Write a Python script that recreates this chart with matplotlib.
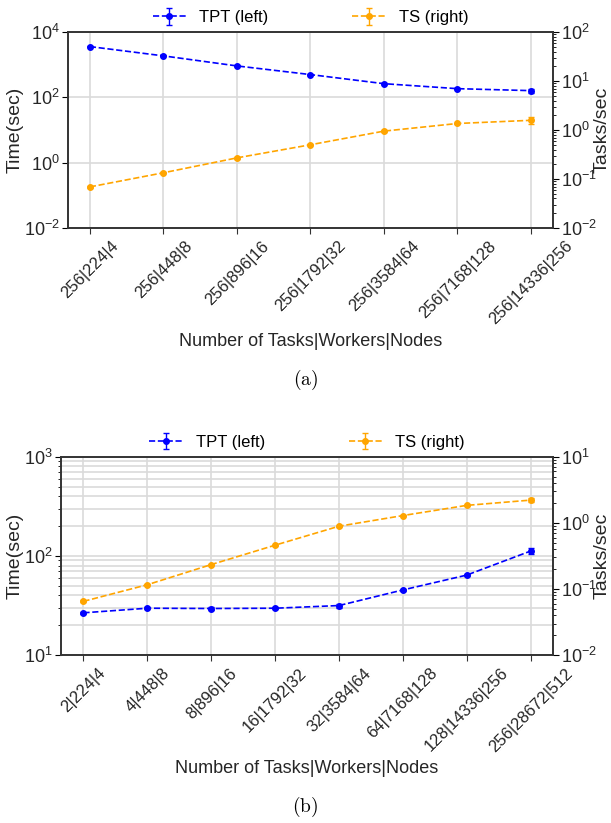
import matplotlib
matplotlib.use("Agg")
import matplotlib.pyplot as plt
from matplotlib.ticker import LogLocator, NullFormatter

plt.rcParams['font.family'] = ['Liberation Sans', 'DejaVu Sans']
plt.rcParams['mathtext.fontset'] = 'custom'
plt.rcParams['mathtext.rm'] = 'Liberation Sans'
plt.rcParams['mathtext.it'] = 'Liberation Sans:italic'

# (a) fixed number of tasks
labels_a = ["256|224|4", "256|448|8", "256|896|16", "256|1792|32",
            "256|3584|64", "256|7168|128", "256|14336|256"]
tpt_a = [3600, 1870, 920, 500, 263, 185, 161]
tpt_err_a = [150, 60, 30, 15, 10, 8, 20]
ts_a = [0.069, 0.134, 0.27, 0.50, 0.95, 1.36, 1.58]
ts_err_a = [0.002, 0.004, 0.008, 0.012, 0.03, 0.05, 0.25]

# (b) growing number of tasks
labels_b = ["2|224|4", "4|448|8", "8|896|16", "16|1792|32", "32|3584|64",
            "64|7168|128", "128|14336|256", "256|28672|512"]
tpt_b = [26.7, 29.7, 29.5, 29.7, 31.6, 45.4, 64.1, 112]
tpt_err_b = [0.8, 0.8, 1.2, 0.8, 1.5, 1.2, 1.5, 8]
ts_b = [0.065, 0.116, 0.234, 0.46, 0.89, 1.29, 1.84, 2.21]
ts_err_b = [0.002, 0.003, 0.005, 0.01, 0.02, 0.03, 0.05, 0.15]

fig = plt.figure(figsize=(6.11, 8.23), dpi=100)
ax1 = fig.add_axes([0.111, 0.723, 0.794, 0.238])
ax2 = fig.add_axes([0.100, 0.204, 0.805, 0.241])

grid_c = '#dadada'
txt_c = '#262626'


def panel(ax, labels, tpt, tpt_err, ts, ts_err, ylim_l, ylim_r, minor_left):
    x = list(range(len(labels)))
    axr = ax.twinx()
    h1 = ax.errorbar(x, tpt, yerr=tpt_err, color='blue', ls='--', lw=1.2,
                     marker='o', ms=4, capsize=2, elinewidth=1)
    h2 = axr.errorbar(x, ts, yerr=ts_err, color='orange', ls='--', lw=1.2,
                      marker='o', ms=4, capsize=2, elinewidth=1)
    ax.set_yscale('log')
    axr.set_yscale('log')
    ax.set_ylim(*ylim_l)
    axr.set_ylim(*ylim_r)
    ax.set_xticks(x)
    ax.set_xticklabels(labels, rotation=45, ha='center', fontsize=12,
                       color=txt_c)
    ax.tick_params(axis='x', length=4, color='#333333')
    ax.tick_params(axis='y', which='major', labelsize=13, length=4,
                   labelcolor=txt_c, pad=2)
    axr.tick_params(axis='y', which='major', labelsize=13, length=4,
                    labelcolor=txt_c, pad=2)
    axr.tick_params(axis='y', which='minor', length=2)
    axr.yaxis.set_minor_locator(LogLocator(base=10, subs=range(2, 10)))
    axr.yaxis.set_minor_formatter(NullFormatter())
    if minor_left:
        ax.yaxis.set_minor_locator(LogLocator(base=10, subs=range(2, 10)))
        ax.tick_params(axis='y', which='minor', length=2)
        ax.grid(True, which='both', axis='y', color=grid_c, lw=1.2)
    else:
        ax.yaxis.set_minor_locator(plt.NullLocator())
        ax.grid(True, which='major', axis='y', color=grid_c, lw=1.2)
    ax.yaxis.set_minor_formatter(NullFormatter())
    ax.grid(True, which='major', axis='x', color=grid_c, lw=1.2)
    ax.set_axisbelow(True)
    for a in (ax, axr):
        for s in a.spines.values():
            s.set_color('#333333')
            s.set_linewidth(1.2)
    ax.set_ylabel('Time(sec)', fontsize=14, color=txt_c)
    axr.set_ylabel('Tasks/sec', fontsize=14, color=txt_c)
    ax.set_xlabel('Number of Tasks|Workers|Nodes', fontsize=13, color=txt_c)
    ax.legend([h1, h2], ['TPT (left)', 'TS (right)'], ncol=2,
              loc='lower center', bbox_to_anchor=(0.5, 0.985), frameon=False,
              fontsize=12, columnspacing=5, handlelength=2,
              borderaxespad=0.2)
    return axr


r1 = panel(ax1, labels_a, tpt_a, tpt_err_a, ts_a, ts_err_a,
           (1e-2, 1e4), (1e-2, 1e2), False)
ax1.set_yticks([1e-2, 1e0, 1e2, 1e4])
r1.set_yticks([1e-2, 1e-1, 1e0, 1e1, 1e2])
ax1.yaxis.set_label_coords((24 - 68) / 485, 0.5)
r1.yaxis.set_label_coords((594 - 68) / 485, 0.5)

r2 = panel(ax2, labels_b, tpt_b, tpt_err_b, ts_b, ts_err_b,
           (1e1, 1e3), (1e-2, 1e1), True)
ax2.yaxis.set_label_coords((24 - 61) / 492, 0.5)
r2.yaxis.set_label_coords((594 - 61) / 492, 0.5)

fig.text(0.5, 1 - 380 / 823, r'$\mathrm{(a)}$', ha='center', va='center',
         fontsize=14, math_fontfamily='cm')
fig.text(0.5, 1 - 807 / 823, r'$\mathrm{(b)}$', ha='center', va='center',
         fontsize=14, math_fontfamily='cm')

fig.savefig('out.png', dpi=100)
